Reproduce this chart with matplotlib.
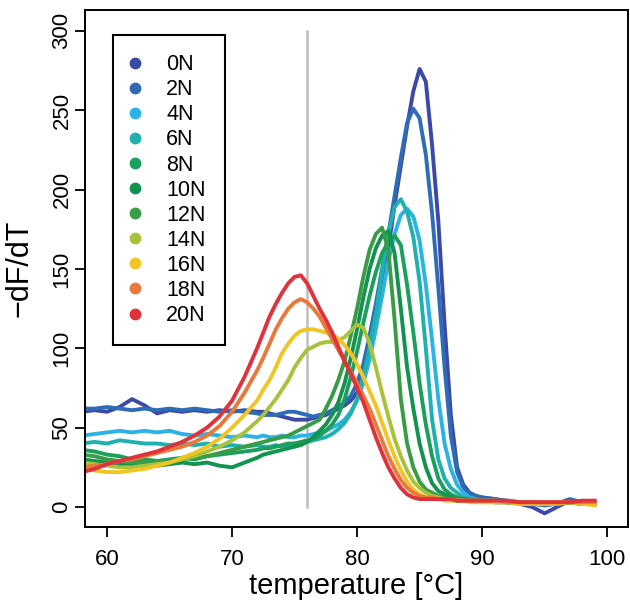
import matplotlib
matplotlib.use('Agg')
import matplotlib.pyplot as plt
from matplotlib.lines import Line2D

plt.rcParams['font.family'] = ['Liberation Sans', 'DejaVu Sans']

# temperature grid (degC)
temp = [58, 59, 60, 61, 62, 63, 64, 65, 66, 67, 68, 69, 70, 71, 72,
        72.5, 73, 73.5, 74, 74.5, 75, 75.5, 76, 76.5, 77, 77.5, 78, 78.5, 79, 79.5,
        80, 80.5, 81, 81.5, 82, 82.5, 83, 83.5, 84, 84.5, 85, 85.5, 86, 86.5, 87,
        87.5, 88, 88.5, 89, 89.5, 90, 91, 92, 93, 94, 95, 96, 97, 98, 99]

labels = ['0N', '2N', '4N', '6N', '8N', '10N', '12N', '14N', '16N', '18N', '20N']
colors = ['#3b4aa6', '#2f6cb6', '#2ab3e4', '#1fb0b0', '#1c9e5c', '#12934f',
          '#3a9c47', '#a9c23c', '#f0c524', '#e8793a', '#df323b']

# -dF/dT curves
n0 = [60, 61, 60, 63, 68, 64, 59, 61, 60, 61, 60, 61, 60, 61, 60,
      60, 59, 58, 57, 56, 55, 55, 55, 56, 57, 58, 60, 62, 64, 67,
      72, 82, 98, 118, 140, 163, 190, 215, 240, 262, 276, 268, 228, 180, 115,
      58, 25, 14, 9, 7, 6, 5, 3, 2, 0, -4, 0, 4, 3, 3]
n2 = [62, 62, 63, 62, 61, 62, 61, 62, 61, 62, 61, 60, 61, 60, 59,
      58, 58, 58, 59, 60, 60, 59, 58, 57, 58, 59, 61, 63, 66, 70,
      78, 90, 108, 128, 150, 172, 196, 220, 242, 251, 245, 222, 185, 138, 88,
      45, 22, 12, 8, 7, 6, 5, 4, 3, 2, 1, 2, 5, 3, 3]
n4 = [45, 46, 47, 48, 47, 48, 47, 48, 46, 45, 46, 45, 44, 45, 44,
      45, 44, 44, 45, 44, 44, 45, 45, 46, 47, 48, 50, 52, 55, 60,
      67, 78, 93, 112, 133, 155, 172, 184, 188, 183, 168, 140, 105, 68, 40,
      24, 14, 9, 6, 5, 4, 4, 3, 3, 2, 2, 2, 3, 2, 2]
n6 = [40, 41, 40, 42, 41, 40, 40, 39, 40, 39, 40, 38, 39, 38, 39,
      38, 38, 39, 38, 39, 40, 40, 41, 42, 43, 44, 46, 49, 53, 59,
      68, 82, 100, 122, 148, 172, 189, 194, 186, 170, 142, 100, 55, 30, 18,
      12, 9, 6, 5, 4, 4, 4, 3, 3, 2, 2, 2, 3, 2, 2]
n8 = [36, 35, 33, 32, 30, 30, 29, 30, 31, 30, 32, 33, 34, 35, 36,
      37, 37, 38, 39, 40, 40, 41, 42, 43, 45, 48, 52, 58, 68, 82,
      98, 116, 133, 148, 160, 167, 171, 165, 140, 110, 78, 52, 32, 18, 11,
      8, 6, 5, 5, 4, 4, 4, 3, 3, 3, 2, 3, 3, 2, 2]
n10 = [30, 29, 28, 27, 26, 27, 26, 27, 28, 27, 28, 26, 25, 28, 31,
       33, 34, 35, 36, 37, 38, 39, 41, 44, 48, 52, 58, 66, 78, 94,
       112, 132, 150, 163, 171, 174, 160, 125, 88, 62, 40, 25, 15, 10, 8,
       6, 5, 5, 4, 4, 4, 3, 3, 3, 2, 2, 3, 3, 2, 2]
n12 = [33, 32, 30, 29, 28, 28, 29, 29, 30, 31, 32, 34, 36, 38, 40,
       41, 42, 43, 44, 45, 47, 49, 51, 53, 55, 62, 70, 80, 92, 108,
       125, 145, 162, 172, 176, 162, 118, 68, 40, 25, 16, 11, 9, 7, 6,
       5, 5, 4, 4, 4, 4, 3, 3, 3, 2, 2, 3, 3, 2, 2]
n14 = [28, 27, 26, 25, 25, 26, 27, 28, 30, 32, 35, 38, 42, 47, 54,
       58, 63, 68, 74, 80, 88, 94, 99, 101, 103, 104, 104, 105, 107, 111,
       115, 113, 103, 88, 72, 57, 43, 32, 23, 16, 12, 9, 7, 6, 5,
       5, 4, 4, 4, 4, 3, 3, 3, 2, 2, 2, 3, 3, 2, 2]
n16 = [24, 23, 22, 22, 23, 24, 26, 28, 31, 34, 38, 43, 50, 58, 67,
       74, 80, 88, 97, 103, 108, 111, 112, 112, 111, 110, 109, 106, 102, 97,
       90, 82, 73, 64, 53, 42, 32, 23, 16, 11, 8, 6, 5, 5, 4,
       4, 4, 4, 3, 3, 3, 3, 3, 2, 2, 2, 2, 3, 2, 1]
n18 = [25, 26, 27, 29, 30, 32, 34, 36, 38, 41, 45, 51, 60, 72, 86,
       94, 103, 112, 119, 125, 129, 131, 129, 125, 120, 113, 106, 99, 92, 85,
       78, 70, 62, 52, 42, 32, 24, 17, 12, 9, 7, 6, 6, 5, 5,
       5, 4, 4, 4, 4, 4, 4, 3, 3, 3, 3, 3, 3, 3, 3]
n20 = [22, 24, 27, 29, 31, 33, 35, 38, 41, 45, 50, 57, 67, 82, 100,
       110, 120, 128, 135, 141, 145, 146, 141, 133, 125, 118, 110, 101, 92, 84,
       75, 66, 55, 44, 34, 25, 18, 12, 8, 6, 5, 5, 5, 5, 5,
       5, 4, 4, 4, 4, 4, 4, 4, 3, 3, 3, 3, 3, 4, 4]

series = [n0, n2, n4, n6, n8, n10, n12, n14, n16, n18, n20]

fig = plt.figure(figsize=(6.30, 6.04), dpi=100)
ax = fig.add_axes([0.135, 0.1275, 0.862, 0.856])

ax.plot([76, 76], [0, 300], color='#bdbdbd', lw=1.8, zorder=1)
for vals, c in zip(series, colors):
    ax.plot(temp, vals, color=c, lw=2.8, solid_joinstyle='round', zorder=2)

ax.set_xlim(58.24, 101.68)
ax.set_ylim(-12.6, 313.2)
ax.set_xticks([60, 70, 80, 90, 100])
ax.set_yticks([0, 50, 100, 150, 200, 250, 300])
ax.tick_params(direction='out', length=7, width=1.3, labelsize=16)
ax.tick_params(axis='x', pad=9)
ax.tick_params(axis='y', pad=2)
for lab in ax.get_yticklabels():
    lab.set_rotation(90)
    lab.set_va('center')
for s in ax.spines.values():
    s.set_linewidth(1.4)

ax.set_xlabel('temperature [°C]', fontsize=21, labelpad=1)
ax.set_ylabel('\u2212dF/dT', fontsize=22, labelpad=12)

handles = [Line2D([], [], ls='none', marker='o', ms=7.5, color=c) for c in colors]
leg = ax.legend(handles, labels, loc='upper left', bbox_to_anchor=(0.052, 0.952),
                fontsize=15.5, frameon=True, fancybox=False, framealpha=1,
                edgecolor='black', borderpad=0.9, labelspacing=0.19,
                handlelength=0.2, handletextpad=1.35, borderaxespad=0)
leg.get_frame().set_linewidth(1.5)

fig.savefig('out.png', dpi=100)
